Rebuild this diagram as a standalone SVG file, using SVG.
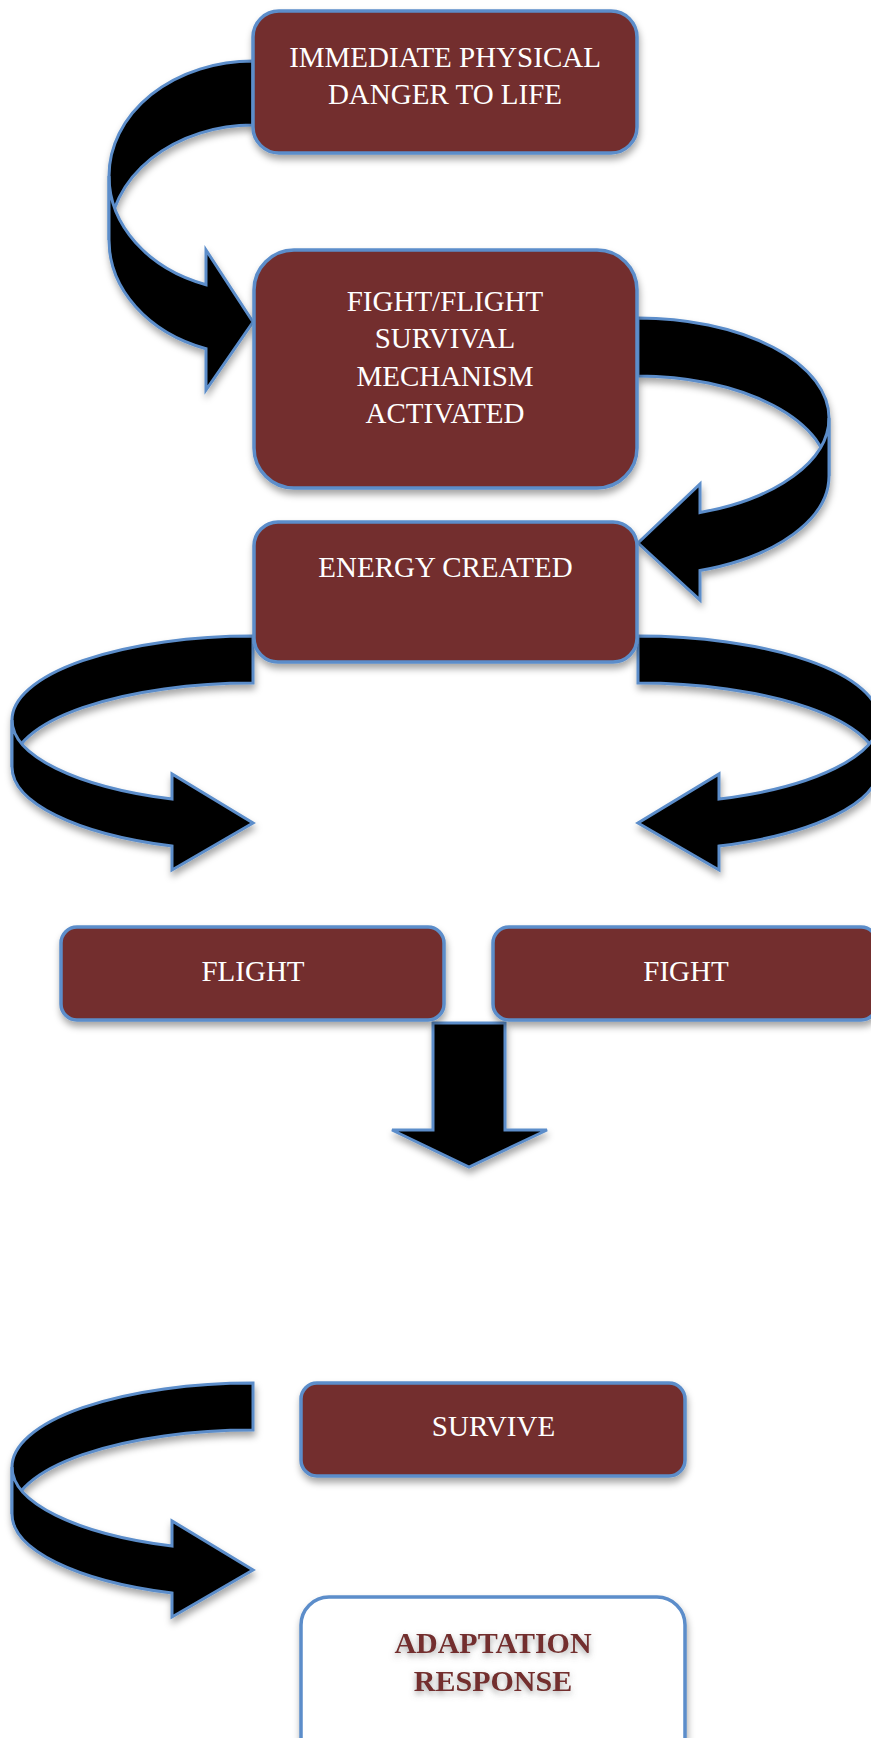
<svg xmlns="http://www.w3.org/2000/svg" width="871" height="1738" viewBox="0 0 871 1738">
<defs>
<filter id="sh" x="-20%" y="-20%" width="140%" height="150%">
<feDropShadow dx="1" dy="5" stdDeviation="3.5" flood-color="#000" flood-opacity="0.35"/>
</filter>
<filter id="tsh" x="-20%" y="-40%" width="140%" height="180%">
<feDropShadow dx="0" dy="3" stdDeviation="3" flood-color="#666" flood-opacity="0.6"/>
</filter>
<style>
.box{fill:#732F2D;stroke:#5B8DCA;stroke-width:3.5;filter:url(#sh)}
.wbox{fill:#fff;stroke:#5B8DCA;stroke-width:3.5;filter:url(#sh)}
.arr{fill:#000;stroke:#5B8DCA;stroke-width:3;stroke-linejoin:miter}
.t{font-family:"Liberation Serif","Times New Roman",serif;font-size:29px;fill:#fff;text-anchor:middle}
.b{font-family:"Liberation Serif","Times New Roman",serif;font-size:30px;font-weight:bold;fill:#732F2D;text-anchor:middle;filter:url(#tsh)}
</style>
</defs>
<rect width="871" height="1738" fill="#fff"/>
<g id="connectors">
<g id="arrowA" filter="url(#sh)">
<path class="arr" d="M253,61 A144 115 0 0 0 109,176 L109,240 A144 115 0 0 1 253,125 Z"/>
<path class="arr" d="M109,176 A144 115 0 0 0 206,284.7 L206,250 L253,322 L206,390 L206,348.7 A144 115 0 0 1 109,240 Z"/>
</g>
<g id="arrowB" filter="url(#sh)">
<path class="arr" d="M638,318 A191 100 0 0 1 829,418 L829,476 A191 100 0 0 0 638,376 Z"/>
<path class="arr" d="M829,418 A191 100 0 0 1 700,512.6 L700,484 L638,543 L700,600 L700,570.6 A191 100 0 0 0 829,476 Z"/>
</g>
<g id="arrowC" filter="url(#sh)">
<path class="arr" d="M253,636 A241 84 0 0 0 12,720 L12,767 A241 84 0 0 1 253,683 Z"/>
<path class="arr" d="M12,720 A241 84 0 0 0 172,799.1 L172,774 L253,823 L172,870 L172,846.1 A241 84 0 0 1 12,767 Z"/>
</g>
<g id="arrowD" filter="url(#sh)">
<path class="arr" d="M638,636 A241 84 0 0 1 879,720 L879,767 A241 84 0 0 0 638,683 Z"/>
<path class="arr" d="M879,720 A241 84 0 0 1 719,799.1 L719,774 L638,823 L719,870 L719,846.1 A241 84 0 0 0 879,767 Z"/>
</g>
<g id="arrowE" filter="url(#sh)" transform="translate(0,747)">
<path class="arr" d="M253,636 A241 84 0 0 0 12,720 L12,767 A241 84 0 0 1 253,683 Z"/>
<path class="arr" d="M12,720 A241 84 0 0 0 172,799.1 L172,774 L253,823 L172,870 L172,846.1 A241 84 0 0 1 12,767 Z"/>
</g>
<g id="arrowDown" filter="url(#sh)">
<path class="arr" d="M433,1023 L505,1023 L505,1130 L547,1130 L469,1167 L392,1130 L433,1130 Z"/>
</g>
</g>
<g id="danger">
<rect class="box" x="253" y="11" width="384" height="142" rx="26"/>
<text class="t" x="445" y="67">IMMEDIATE PHYSICAL</text>
<text class="t" x="445" y="104">DANGER TO LIFE</text>
</g>
<g id="mechanism">
<rect class="box" x="254" y="250" width="383" height="238" rx="40"/>
<text class="t" x="445" y="311">FIGHT/FLIGHT</text>
<text class="t" x="445" y="348">SURVIVAL</text>
<text class="t" x="445" y="386">MECHANISM</text>
<text class="t" x="445" y="423">ACTIVATED</text>
</g>
<g id="energy">
<rect class="box" x="254" y="522" width="383" height="140" rx="24"/>
<text class="t" x="445.5" y="577">ENERGY CREATED</text>
</g>
<g id="flight">
<rect class="box" x="61" y="927" width="383" height="93" rx="16"/>
<text class="t" x="253" y="981">FLIGHT</text>
</g>
<g id="fight">
<rect class="box" x="493" y="927" width="384" height="93" rx="16"/>
<text class="t" x="686" y="981">FIGHT</text>
</g>
<g id="survive">
<rect class="box" x="301" y="1383" width="384" height="93" rx="16"/>
<text class="t" x="493.5" y="1436">SURVIVE</text>
</g>
<g id="adaptation">
<rect class="wbox" x="301" y="1597" width="384" height="170" rx="28"/>
<text class="b" x="493" y="1653">ADAPTATION</text>
<text class="b" x="493" y="1691">RESPONSE</text>
</g>
</svg>
